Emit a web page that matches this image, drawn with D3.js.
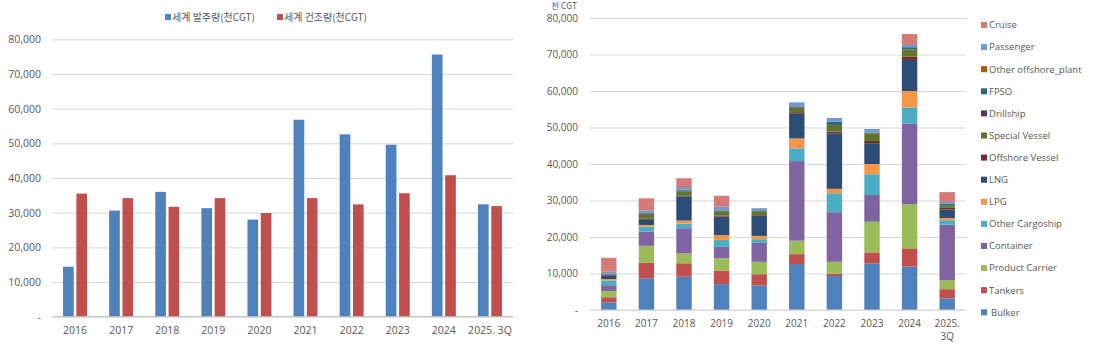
<!DOCTYPE html>
<html>
<head>
<meta charset="utf-8">
<script src="https://cdn.jsdelivr.net/npm/d3@7"></script>
<style>
  body { margin: 0; background: #fff; }
  text { font-family: "Open Sans", "Noto Sans", sans-serif; fill: #595959; }
</style>
</head>
<body>
<svg id="chart" width="1093" height="349"></svg>
<script>
// categories
const years = ["2016", "2017", "2018", "2019", "2020", "2021", "2022", "2023", "2024", "2025. 3Q"];

// left chart: world orders / completions (천CGT)
const orders      = [14400, 30600, 36000, 31300, 28000, 56800, 52600, 49600, 75600, 32400];
const completions = [35500, 34200, 31700, 34200, 29900, 34200, 32400, 35600, 40800, 31900];
const leftSeries = ["세계 발주량(천CGT)", "세계 건조량(천CGT)"];

// right chart: orders by ship type (stack order bottom -> top)
const shipTypes = ["Bulker", "Tankers", "Product Carrier", "Container", "Other Cargoship", "LPG", "LNG",
  "Offshore Vessel", "Special Vessel", "Drillship", "FPSO", "Other offshore_plant", "Passenger", "Cruise"];
const bulker         = [2100, 8700, 9100, 7100, 6700, 12600, 9300, 12800, 11900, 3200];
const tankers        = [1400, 4300, 3700, 3700, 3100, 2700, 700, 3000, 5000, 2500];
const productCarrier = [1700, 4600, 2700, 3400, 3400, 3700, 3200, 8400, 12100, 2500];
const container      = [1600, 3900, 6900, 3100, 5200, 21800, 13600, 7300, 22000, 15200];
const otherCargo     = [1300, 1300, 1300, 1900, 1000, 3500, 5200, 5700, 4500, 1200];
const lpg            = [400, 500, 800, 1300, 900, 2700, 1200, 2800, 4500, 600];
const lng            = [1000, 1400, 6600, 5100, 5500, 6900, 15200, 5700, 8500, 2300];
const offshoreVessel = [200, 300, 300, 300, 200, 300, 500, 600, 900, 500];
const specialVessel  = [200, 1100, 1100, 1200, 1100, 1200, 1800, 2100, 2000, 700];
const drillship      = [0, 200, 200, 0, 0, 200, 0, 200, 0, 0];
const fpso           = [0, 200, 200, 0, 0, 0, 900, 0, 600, 400];
const otherOffshore  = [0, 100, 100, 0, 0, 0, 0, 0, 0, 0];
const passenger      = [700, 700, 700, 1200, 800, 1300, 1000, 1000, 600, 500];
const cruise         = [3700, 3300, 2400, 3000, 0, 0, 0, 0, 3000, 2700];
const typeValues = [bulker, tankers, productCarrier, container, otherCargo, lpg, lng,
  offshoreVessel, specialVessel, drillship, fpso, otherOffshore, passenger, cruise];

const yTicks = [0, 10000, 20000, 30000, 40000, 50000, 60000, 70000, 80000];

const svg = d3.select("#chart");
const fmt = d => d === 0 ? "-" : d3.format(",")(d);

// ---------------- left chart ----------------
const L = { left: 52, right: 513, top: 39.3, bottom: 316.7 };
const yL = d3.scaleLinear().domain([0, 80000]).range([L.bottom, L.top]);
const x0 = d3.scaleBand().domain(years).range([L.left, L.right]).paddingInner(0.48).paddingOuter(0.24);
const x1 = d3.scaleBand().domain(leftSeries).range([0, x0.bandwidth()]).paddingInner(0.2);
const leftColors = d3.scaleOrdinal().domain(leftSeries).range(["#4f81bd", "#c0504d"]);

const gL = svg.append("g");
gL.append("g")
  .attr("transform", `translate(${L.left},0)`)
  .call(d3.axisLeft(yL).tickValues(yTicks).tickSize(-(L.right - L.left)).tickFormat(fmt).tickPadding(11))
  .call(g => g.select(".domain").remove())
  .call(g => g.selectAll(".tick line").attr("stroke", "#d9d9d9"))
  .call(g => g.selectAll(".tick text").attr("font-size", 10.5).attr("fill", "#595959"));

const leftRows = years.map((y, i) => ({ year: y, vals: [orders[i], completions[i]] }));
gL.selectAll("g.grp")
  .data(leftRows)
  .enter().append("g")
  .attr("transform", d => `translate(${x0(d.year)},0)`)
  .selectAll("rect")
  .data(d => d.vals.map((v, k) => ({ key: leftSeries[k], v })))
  .enter().append("rect")
  .attr("x", d => x1(d.key))
  .attr("width", x1.bandwidth())
  .attr("y", d => yL(d.v))
  .attr("height", d => yL(0) - yL(d.v))
  .attr("fill", d => leftColors(d.key));

gL.append("line")
  .attr("x1", L.left).attr("x2", L.right)
  .attr("y1", yL(0)).attr("y2", yL(0))
  .attr("stroke", "#bfbfbf");

gL.append("g")
  .attr("transform", `translate(0,${L.bottom})`)
  .call(d3.axisBottom(x0).tickSize(0).tickPadding(10))
  .call(g => g.select(".domain").remove())
  .call(g => g.selectAll("text").attr("font-size", 10.5).attr("fill", "#595959"));

// left legend
const legL = gL.append("g").attr("transform", "translate(165,17)");
leftSeries.forEach((s, i) => {
  const item = legL.append("g").attr("transform", `translate(${i === 0 ? 0 : 112},0)`);
  item.append("rect").attr("x", 0).attr("y", -3).attr("width", 6).attr("height", 6).attr("fill", leftColors(s));
  item.append("text").attr("x", 7).attr("y", 0).attr("dy", "0.35em")
    .style("font-family", '"Noto Sans CJK KR", sans-serif')
    .attr("font-size", 10).text(s);
});

// ---------------- right chart ----------------
const R = { left: 590, right: 966, top: 18, bottom: 310 };
const yR = d3.scaleLinear().domain([0, 80000]).range([R.bottom, R.top]);
const xR = d3.scaleBand().domain(years).range([R.left, R.right]).paddingInner(0.59).paddingOuter(0.295);
const typeColors = d3.scaleOrdinal().domain(shipTypes).range([
  "#4f81bd", "#c0504d", "#9bbb59", "#8064a2", "#4bacc6", "#f79646", "#2c4d75",
  "#772c2a", "#5f7530", "#4d3b62", "#276a7c", "#b65708", "#729aca", "#d47b7a"]);

const gR = svg.append("g");
gR.append("g")
  .attr("transform", `translate(${R.left},0)`)
  .call(d3.axisLeft(yR).tickValues(yTicks).tickSize(-(R.right - R.left)).tickFormat(fmt).tickPadding(12))
  .call(g => g.select(".domain").remove())
  .call(g => g.selectAll(".tick line").attr("stroke", "#d9d9d9"))
  .call(g => g.selectAll(".tick text").attr("font-size", 10).attr("fill", "#595959"));

gR.append("text")
  .attr("x", 577).attr("y", 9)
  .attr("text-anchor", "end")
  .style("font-family", '"Noto Sans CJK KR", sans-serif')
  .attr("font-size", 8.5).text("천 CGT");

const table = years.map((y, i) => {
  const row = { year: y };
  shipTypes.forEach((t, k) => { row[t] = typeValues[k][i]; });
  return row;
});
const stacked = d3.stack().keys(shipTypes)(table);

gR.selectAll("g.layer")
  .data(stacked)
  .enter().append("g")
  .attr("fill", d => typeColors(d.key))
  .selectAll("rect")
  .data(d => d)
  .enter().append("rect")
  .attr("x", d => xR(d.data.year))
  .attr("width", xR.bandwidth())
  .attr("y", d => yR(d[1]))
  .attr("height", d => yR(d[0]) - yR(d[1]));

gR.append("line")
  .attr("x1", R.left).attr("x2", R.right)
  .attr("y1", yR(0)).attr("y2", yR(0))
  .attr("stroke", "#d9d9d9");

const xAxR = gR.append("g")
  .attr("transform", `translate(0,${R.bottom})`)
  .call(d3.axisBottom(xR).tickSize(0).tickPadding(10).tickFormat(() => ""))
  .call(g => g.select(".domain").remove());
xAxR.selectAll(".tick text").each(function(d) {
  const t = d3.select(this).attr("font-size", 10).attr("fill", "#595959");
  d.split(" ").forEach((p, k) => {
    t.append("tspan").attr("x", 0).attr("dy", k === 0 ? "0.71em" : "1.3em").text(p);
  });
});

// right legend (top -> bottom is reverse of stack)
const legR = gR.append("g").attr("transform", "translate(981,25)");
shipTypes.slice().reverse().forEach((t, i) => {
  const item = legR.append("g").attr("transform", `translate(0,${i * 22.1})`);
  item.append("rect").attr("x", 0).attr("y", -3).attr("width", 6).attr("height", 6).attr("fill", typeColors(t));
  item.append("text").attr("x", t === "Bulker" ? 10 : 8).attr("y", 0).attr("dy", "0.35em")
    .attr("font-size", 9.5).text(t);
});
</script>
</body>
</html>
